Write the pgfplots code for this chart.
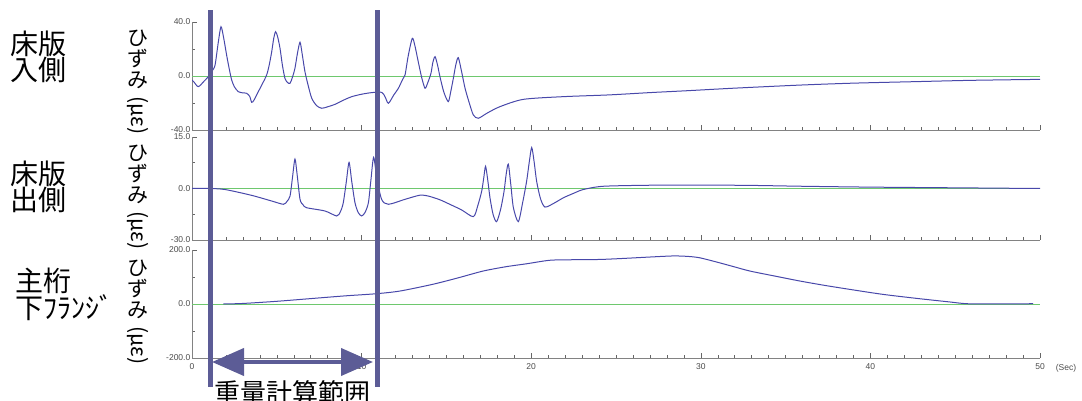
\documentclass[border=0pt]{standalone}
\usepackage{pgfplots}
\pgfplotsset{compat=1.18}
\usepackage{fontspec}
\setmainfont{Liberation Sans}
\newfontfamily\jp{Noto Sans CJK JP}
\usetikzlibrary{arrows.meta}
\definecolor{curve}{RGB}{72,72,170}
\definecolor{zeroline}{RGB}{110,200,110}
\definecolor{barcol}{RGB}{92,92,150}
\definecolor{axgray}{RGB}{130,130,130}

\pgfplotsset{panel/.style={
  scale only axis, width=848pt, anchor=north west,
  xmin=0, xmax=50, enlargelimits=false,
  axis lines*=left, axis line style={axgray, line width=0.8pt},
  xtick={0,10,...,50}, minor x tick num=9,
  tick align=inside, major tick length=5pt, minor tick length=2.5pt,
  tick style={black!60, line width=0.5pt},
  ticklabel style={font=\fontsize{8.5}{8.5}\selectfont, text=black!70},
  yticklabel style={inner sep=1.5pt},
}}
\tikzset{hiz/.style={align=center, inner sep=0pt, font=\jp\fontsize{21}{21}\selectfont}}

\begin{document}
\begin{tikzpicture}
\useasboundingbox (0pt,0pt) rectangle (1082pt,400pt);

% 床版 入側
\begin{axis}[panel, at={(192pt,378pt)}, height=108pt,
  ymin=-40, ymax=40, ytick={-40,0,40}, yticklabels={-40.0,0.0,40.0},
  minor ytick={-20,20}, xticklabels={}]
\addplot[zeroline, line width=0.8pt] coordinates {(0,0)(50,0)};
\addplot[curve, line width=1pt, smooth, tension=0.45] coordinates {
(0,-3)(0.1,-4.2)(0.37,-7.9)(0.7,-4)(0.96,-0.5)(1.2,4)(1.36,8.1)(1.55,25)(1.71,36.5)(1.87,28)
(2.04,15.6)(2.2,5)(2.34,-3)(2.5,-8)(2.73,-11.6)(3.0,-12.5)(3.22,-12.8)(3.4,-15)(3.52,-19.5)(3.65,-18)
(3.81,-14)(4.1,-7)(4.4,0.7)(4.55,8)(4.7,18)(4.82,28)(4.93,32.8)(5.05,29)(5.19,20.5)(5.33,8)
(5.48,-1.7)(5.63,-4.8)(5.78,-5.4)(5.92,-1)(6.07,5.7)(6.22,17)(6.37,25)(6.5,16)(6.66,3.2)(6.85,-7)
(7.06,-16.5)(7.35,-22)(7.65,-23.9)(8.0,-22.8)(8.43,-21)(9.0,-17.5)(9.42,-15.3)(10.0,-13.5)(10.6,-12.3)(11.18,-12.1)
(11.38,-15.3)(11.58,-20.2)(11.9,-14)(12.17,-9.1)(12.4,-3)(12.56,0.7)(12.75,15)(12.99,27.9)(13.15,22)(13.34,10.6)
(13.54,-1)(13.74,-9.1)(13.9,-5)(14.09,2)(14.2,10)(14.33,14.3)(14.48,8)(14.62,-0.5)(14.85,-12)(15.11,-19)
(15.25,-12)(15.41,-1.7)(15.55,8)(15.7,13.6)(15.9,3)(16.1,-9.1)(16.35,-20)(16.59,-28.9)(16.88,-31.3)(17.4,-27.5)
(18.16,-22.7)(19.54,-17.3)(21.9,-15.3)(24.6,-14)(27.0,-12.3)(29.2,-10.9)(32,-9)(35.9,-6.7)(39,-5.3)(42.6,-4.2)
(46,-3.2)(50,-2.5)};
\end{axis}

% 床版 出側
\begin{axis}[panel, at={(192pt,263pt)}, height=103pt,
  ymin=-30, ymax=30, ytick={-30,0,30}, yticklabels={-30.0,0.0,15.0},
  minor ytick={-15,15}, xticklabels={}]
\addplot[zeroline, line width=0.8pt] coordinates {(0,0)(50,0)};
\addplot[curve, line width=1pt, smooth, tension=0.45] coordinates {
(0,0)(1,0)(1.95,-0.6)(3.52,-4)(4.7,-7.3)(5.39,-9.2)(5.6,-7.5)(5.78,-4.4)(5.92,6)(6.07,17.1)
(6.2,8)(6.37,-6.3)(6.55,-9.5)(6.76,-11.2)(7.84,-13.1)(8.53,-16)(8.75,-13.5)(8.92,-8.3)(9.1,4)(9.26,15.2)
(9.42,4)(9.61,-8.3)(9.8,-14)(10.0,-16)(10.2,-14)(10.4,-8.3)(10.55,5)(10.71,18.2)(10.9,6)(11.18,-6.3)
(11.58,-9.2)(12.56,-6.3)(13.44,-3.9)(13.93,-4.4)(14.6,-6.5)(15.2,-9.2)(15.9,-12.5)(16.59,-16.4)(16.85,-10)(17.08,-1.6)
(17.2,6)(17.31,12.9)(17.45,4)(17.57,-5.4)(17.75,-15)(17.96,-19.3)(18.2,-12)(18.4,-1.6)(18.52,8)(18.65,14.2)
(18.8,2)(18.95,-11.2)(19.24,-19.3)(19.5,-8)(19.73,4.2)(19.88,15)(20.03,23.8)(20.18,15)(20.32,4.2)(20.55,-6)
(20.81,-10.8)(21.3,-8.8)(21.9,-5.4)(22.5,-2.8)(23.07,-0.6)(24.25,1.3)(27,1.9)(30,2)(33,1.8)(36,1.3)
(40,0.8)(45,0.4)(50,0)};
\end{axis}

% 主桁 下フランジ
\begin{axis}[panel, at={(192pt,150pt)}, height=108pt,
  ymin=-200, ymax=200, ytick={-200,0,200}, yticklabels={-200.0,0.0,200.0},
  minor ytick={-100,100}, xticklabels={0,10,20,30,40,50},
  xticklabel style={yshift=-2pt}]
\addplot[zeroline, line width=0.8pt] coordinates {(0,0)(50,0)};
\addplot[curve, line width=1pt, smooth, tension=0.45] coordinates {
(1.85,0)(3,2)(5,10)(7,20)(9,30)(10.85,38)(12.26,48)(14.2,73)(15.7,97)(17.16,122)
(18.5,138)(19.73,149)(21.1,162)(22.5,164)(24.06,165)(25.5,169)(27,174)(28.4,178)(29.3,176)(29.95,171)
(30.9,156)(31.9,139)(32.9,122)(34.4,103)(35.85,85)(37.3,69)(38.8,54)(40.7,36)(42.7,21)(44.7,7.4)
(45.7,1)(47.5,0.5)(49.6,1)};
\end{axis}

\node[font=\fontsize{8.5}{8.5}\selectfont, text=black!70] at (1066pt,32pt) {(Sec)};

% 左側のラベル
\node[anchor=west, align=left, inner sep=0pt, font=\jp\fontsize{28}{25}\selectfont] at (10pt,343pt) {床版\\入側};
\node[anchor=west, align=left, inner sep=0pt, font=\jp\fontsize{28}{25}\selectfont] at (10pt,213pt) {床版\\出側};
\node[anchor=west, align=left, inner sep=0pt, font=\jp\fontsize{28}{25}\selectfont] at (15pt,106pt) {主桁\\下ﾌﾗﾝｼﾞ};
\node[hiz] at (138pt,318pt) {ひ\\ず\\み\\[-12pt]\rotatebox{-90}{(με)}};
\node[hiz] at (138pt,203pt) {ひ\\ず\\み\\[-12pt]\rotatebox{-90}{(με)}};
\node[hiz] at (138pt,88pt) {ひ\\ず\\み\\[-12pt]\rotatebox{-90}{(με)}};

% 重量計算範囲
\fill[barcol] (207.5pt,390pt) rectangle (213pt,13pt);
\fill[barcol] (374.5pt,390pt) rectangle (380pt,13pt);
\draw[barcol, line width=4pt, {Triangle[width=27pt,length=32pt]}-{Triangle[width=27pt,length=32pt]}] (212pt,38pt) -- (373pt,38pt);
\node[anchor=base, inner sep=0pt, font=\jp\fontsize{26}{26}\selectfont] at (292pt,-2pt) {重量計算範囲};
\end{tikzpicture}
\end{document}
